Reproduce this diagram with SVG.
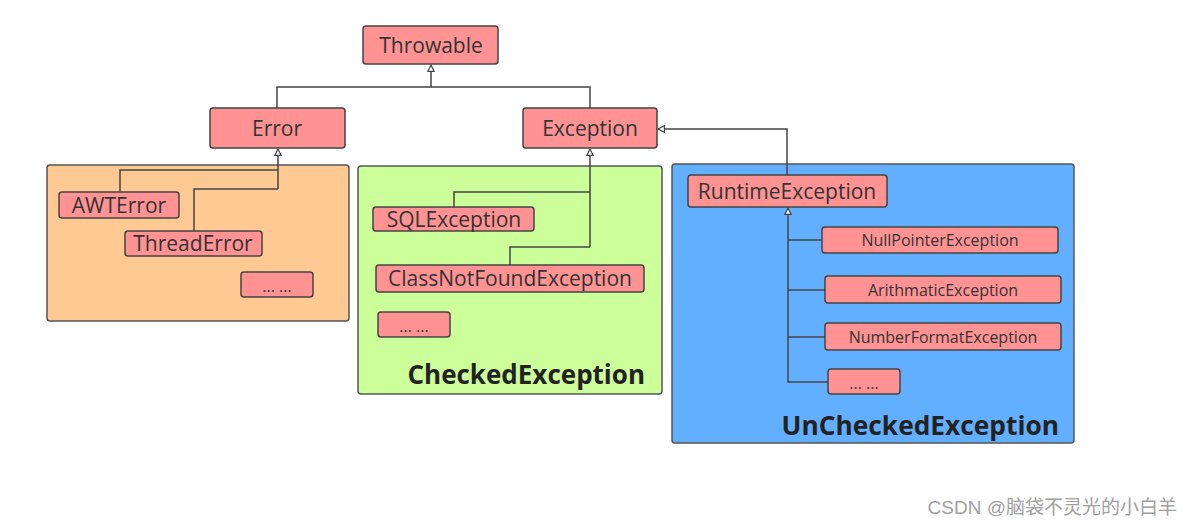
<svg xmlns="http://www.w3.org/2000/svg" width="1187" height="526" viewBox="0 0 1187 526">
<defs>
<marker id="tri" viewBox="0 0 10 10" refX="9" refY="5" markerWidth="8" markerHeight="8" markerUnits="userSpaceOnUse" orient="auto">
<path d="M1,1 L9,5 L1,9 Z" fill="#fff" stroke="#444" stroke-width="1.5"/>
</marker>
<style>
.node{fill:#FF9393;stroke:#444;stroke-width:1.5}
.t{font-family:"Open Sans","Noto Sans",sans-serif;fill:#333;text-anchor:middle}
.big{font-size:21px}
.mid{font-size:21px}
.sm{font-size:16px}
.conn{fill:none;stroke:#444;stroke-width:1.5}
.grp{stroke:#555;stroke-width:1.5}
.lbl{font-family:"Open Sans","Noto Sans",sans-serif;font-weight:bold;fill:#222;text-anchor:end}
</style>
</defs>
<rect width="1187" height="526" fill="#fff"/>
<g id="groups">
<rect id="error-group" class="grp" x="47" y="165" width="302" height="156" rx="3" fill="#FFC993"/>
<rect id="checked-group" class="grp" x="358" y="166" width="304" height="228" rx="3" fill="#CCFF99"/>
<rect id="unchecked-group" class="grp" x="672" y="164" width="402" height="279" rx="3" fill="#63AFFF"/>
<text class="lbl" x="645" y="384" font-size="26">CheckedException</text>
<text class="lbl" x="1059" y="435" font-size="26.3">UnCheckedException</text>
</g>
<g id="connectors">
<path class="conn" d="M277,108 V87 H590 V108"/>
<path class="conn" d="M431,87 V65" marker-end="url(#tri)"/>
<path class="conn" d="M787,175 V129 H658" marker-end="url(#tri)"/>
<path class="conn" d="M120,192 V170 H278"/>
<path class="conn" d="M194,231 V189 H278"/>
<path class="conn" d="M278,189 V149" marker-end="url(#tri)"/>
<path class="conn" d="M454,207 V192 H590"/>
<path class="conn" d="M510,265 V247 H590"/>
<path class="conn" d="M590,247 V149" marker-end="url(#tri)"/>
<path class="conn" d="M822,240 H788"/>
<path class="conn" d="M825,290 H788"/>
<path class="conn" d="M825,337 H788"/>
<path class="conn" d="M828,382 H788 V208" marker-end="url(#tri)"/>
</g>
<g id="throwable"><rect class="node" x="363" y="26" width="135" height="38" rx="3"/><text class="t big" x="431" y="53">Throwable</text></g>
<g id="error"><rect class="node" x="210" y="108" width="135" height="40" rx="3"/><text class="t big" x="277" y="136">Error</text></g>
<g id="exception"><rect class="node" x="523" y="108" width="134" height="40" rx="3"/><text class="t big" x="590" y="136">Exception</text></g>
<g id="awterror"><rect class="node" x="59" y="192" width="120" height="26" rx="3"/><text class="t mid" x="119" y="213">AWTError</text></g>
<g id="threaderror"><rect class="node" x="125" y="231" width="137" height="25" rx="3"/><text class="t mid" x="193" y="251">ThreadError</text></g>
<g id="error-more"><rect class="node" x="241" y="272" width="72" height="25" rx="3"/><text class="t sm" x="277" y="292">... ...</text></g>
<g id="sqlexception"><rect class="node" x="373" y="207" width="161" height="24" rx="3"/><text class="t mid" x="454" y="227">SQLException</text></g>
<g id="classnotfound"><rect class="node" x="376" y="265" width="268" height="27" rx="3"/><text class="t mid" x="510" y="286">ClassNotFoundException</text></g>
<g id="checked-more"><rect class="node" x="378" y="312" width="72" height="25" rx="3"/><text class="t sm" x="414" y="332">... ...</text></g>
<g id="runtime"><rect class="node" x="688" y="175" width="199" height="32" rx="3"/><text class="t big" x="787" y="199">RuntimeException</text></g>
<g id="nullpointer"><rect class="node" x="822" y="227" width="236" height="26" rx="3"/><text class="t sm" x="940" y="246">NullPointerException</text></g>
<g id="arithmatic"><rect class="node" x="825" y="276" width="236" height="27" rx="3"/><text class="t sm" x="943" y="296">ArithmaticException</text></g>
<g id="numberformat"><rect class="node" x="825" y="323" width="236" height="27" rx="3"/><text class="t sm" x="943" y="343">NumberFormatException</text></g>
<g id="unchecked-more"><rect class="node" x="828" y="369" width="72" height="25" rx="3"/><text class="t sm" x="864" y="389">... ...</text></g>
<text x="1177" y="514" font-family="'Liberation Sans','Noto Sans CJK SC',sans-serif" font-size="19" fill="#a0a0a0" text-anchor="end">CSDN @脑袋不灵光的小白羊</text>
</svg>
